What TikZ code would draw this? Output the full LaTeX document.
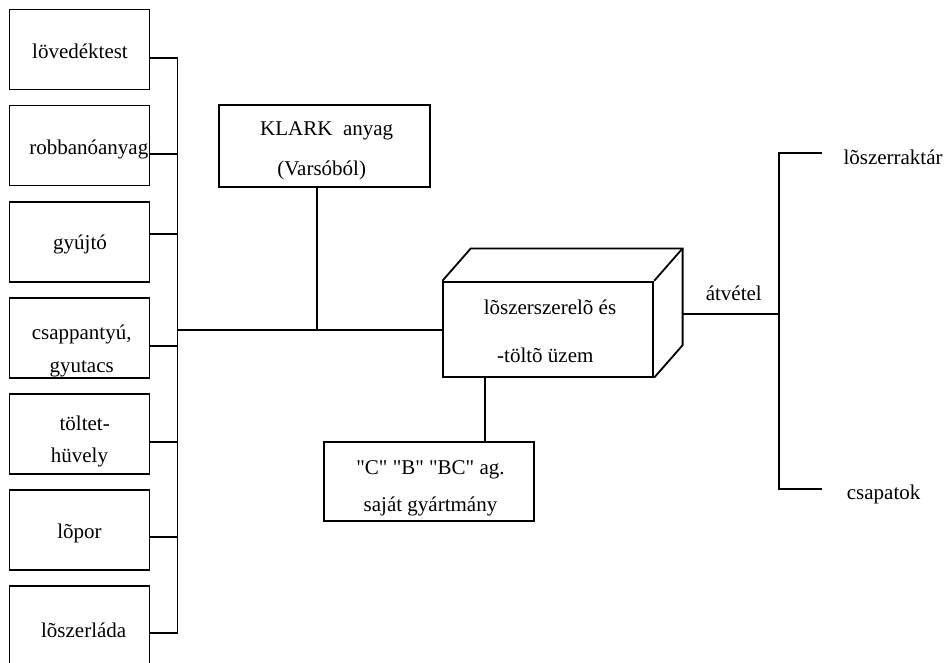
\documentclass[tikz,border=0pt]{standalone}
\usepackage{fontspec}
\setmainfont{Liberation Serif}[Ligatures=TeXOff]
\begin{document}
\begin{tikzpicture}[x=1pt,y=-1pt,
  ln/.style={line width=1.8pt},
  boxst/.style={draw,line width=1.8pt,inner sep=0pt,minimum width=140pt,minimum height=80pt},
  txt/.style={anchor=base,inner sep=0pt,font=\fontsize{21}{25}\selectfont}]
\clip (0,0) rectangle (945,663);
\useasboundingbox (0,0) rectangle (945,663);
% left column
\node[boxst] (b1) at (79.5,49.5) {};
\node[boxst] (b2) at (79.5,145.6) {};
\node[boxst] (b3) at (79.5,241.7) {};
\node[boxst] (b4) at (79.5,338.0) {};
\node[boxst] (b5) at (79.5,434.0) {};
\node[boxst] (b6) at (79.5,530.0) {};
\node[boxst] (b7) at (79.5,626.1) {};
\node[txt] (t1) at (80,59) {lövedéktest};
\node[txt] (t2) at (88.8,154.5) {robbanóanyag};
\node[txt] (t3) at (80,250) {gyújtó};
\node[txt] (t4a) at (81.7,339.3) {csappantyú,};
\node[txt] (t4b) at (81.7,372.7) {gyutacs};
\node[txt] (t5a) at (84.7,430) {töltet-};
\node[txt] (t5b) at (79.5,462.7) {hüvely};
\node[txt] (t6) at (79.5,538.3) {lõpor};
\node[txt] (t7) at (83.7,637.3) {lõszerláda};
% bus
\coordinate (busT) at (177.5,58);
\coordinate (busB) at (177.5,633.3);
\coordinate (busM) at (177.5,330);
\draw[ln] (busT) -- (busB);
\draw[ln] ([yshift=-8.5pt]b1.east) -- ([yshift=-8.5pt]b1.east -| busT);
\draw[ln] ([yshift=-8.4pt]b2.east) -- ([yshift=-8.4pt]b2.east -| busT);
\draw[ln] ([yshift=7.5pt]b3.east) -- ([yshift=7.5pt]b3.east -| busT);
\draw[ln] ([yshift=-8pt]b4.east) -- ([yshift=-8pt]b4.east -| busT);
\draw[ln] ([yshift=-7.7pt]b5.east) -- ([yshift=-7.7pt]b5.east -| busT);
\draw[ln] ([yshift=-7.3pt]b6.east) -- ([yshift=-7.3pt]b6.east -| busT);
\draw[ln] ([yshift=-7.2pt]b7.east) -- ([yshift=-7.2pt]b7.east -| busT);
% KLARK
\node[boxst,minimum width=211pt,minimum height=81.7pt] (klark) at (324.5,145.9) {};
\node[txt] (k1) at (326.7,136) {KLARK\ \ anyag};
\node[txt] (k2) at (321.7,176) {(Varsóból)};
% cube
\node[boxst,minimum width=210pt,minimum height=95pt] (cube) at (548.3,329.2) {};
\draw[ln,line join=miter] (cube.north west) -- ++(28.4,-32.4) -| ([shift={(28.4,-32.4)}]cube.south east) -- (cube.south east);
\draw[ln] (cube.north east) -- ++(28.4,-32.4);
\node[txt] (c1) at (550,314) {lõszerszerelõ és};
\node[txt] (c2) at (545.3,362.7) {-töltõ üzem};
% main line
\draw[ln] (busM) -- (busM -| cube.west);
\draw[ln] (klark.south -| 317.3,0) -- (busM -| 317.3,0);
% bottom box
\node[boxst,minimum width=210.3pt,minimum height=79.3pt] (own) at (429.2,481.4) {};
\node[txt] (o1) at (430.5,474.3) {"C" "B" "BC" ag.};
\node[txt] (o2) at (430.5,511.7) {saját gyártmány};
\draw[ln] (cube.south -| 485,0) -- (own.north -| 485,0);
% right side
\coordinate (cr) at (681.7,314.3);
\coordinate (rv) at (779.3,314.3);
\coordinate (rvT) at (779.3,153.3);
\coordinate (rvB) at (779.3,489.3);
\coordinate (brT) at (821.7,153.3);
\coordinate (brB) at (821.7,489.3);
\draw[ln] (cr) -- (rv);
\draw[ln] (brT) -- (rvT) -- (rvB) -- (brB);
\node[txt] (atv) at (733.8,300.7) {átvétel};
\node[txt,anchor=base west] (r1) at (843.3,165) {lõszerraktár};
\node[txt,anchor=base west] (r2) at (846.7,499.3) {csapatok};
\end{tikzpicture}
\end{document}
